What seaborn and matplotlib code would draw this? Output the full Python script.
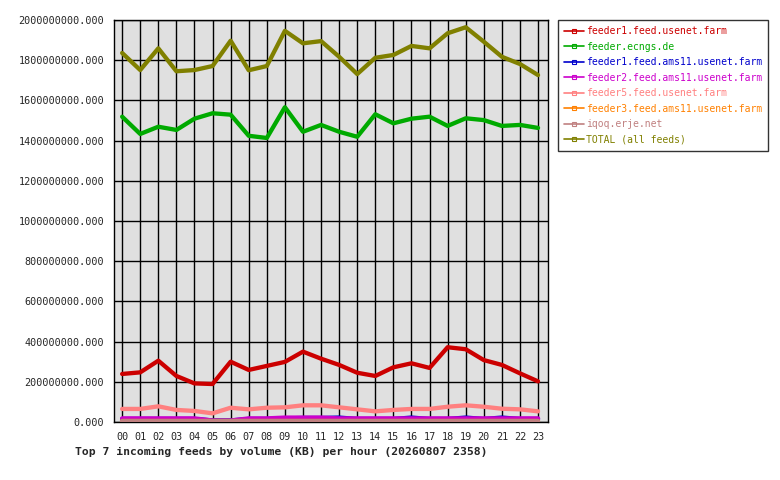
import numpy as np
import pandas as pd
import matplotlib
matplotlib.use("Agg")
import matplotlib.pyplot as plt
import seaborn as sns
from matplotlib.lines import Line2D
from matplotlib.ticker import FuncFormatter, MultipleLocator

hours = ["00", "01", "02", "03", "04", "05", "06", "07", "08", "09", "10", "11",
         "12", "13", "14", "15", "16", "17", "18", "19", "20", "21", "22", "23"]

feed_names = [
    "feeder1.feed.usenet.farm",
    "feeder.ecngs.de",
    "feeder1.feed.ams11.usenet.farm",
    "feeder2.feed.ams11.usenet.farm",
    "feeder5.feed.usenet.farm",
    "feeder3.feed.ams11.usenet.farm",
    "iqoq.erje.net",
    "TOTAL (all feeds)",
]

feeder1_usenet = [239e6, 247e6, 305e6, 229e6, 192e6, 189e6, 300e6, 259e6, 279e6, 299e6, 350e6, 315e6,
                  284e6, 245e6, 229e6, 272e6, 292e6, 269e6, 372e6, 362e6, 308e6, 284e6, 242e6, 202e6]
ecngs = [1519e6, 1433e6, 1469e6, 1453e6, 1509e6, 1536e6, 1529e6, 1424e6, 1413e6, 1566e6, 1444e6, 1478e6,
         1444e6, 1419e6, 1531e6, 1486e6, 1509e6, 1519e6, 1473e6, 1511e6, 1502e6, 1473e6, 1478e6, 1463e6]
feeder1_ams11 = [15e6, 15e6, 15e6, 15e6, 15e6, 8e6, 8e6, 15e6, 15e6, 18e6, 20e6, 20e6,
                 22e6, 15e6, 15e6, 15e6, 22e6, 15e6, 15e6, 22e6, 15e6, 22e6, 15e6, 15e6]
feeder2_ams11 = [18e6, 18e6, 18e6, 18e6, 18e6, 7e6, 7e6, 18e6, 18e6, 22e6, 22e6, 22e6,
                 18e6, 18e6, 18e6, 18e6, 18e6, 18e6, 18e6, 18e6, 18e6, 18e6, 18e6, 18e6]
feeder5_usenet = [65e6, 65e6, 78e6, 60e6, 55e6, 43e6, 71e6, 63e6, 71e6, 73e6, 83e6, 83e6,
                  73e6, 63e6, 53e6, 60e6, 65e6, 65e6, 76e6, 83e6, 76e6, 66e6, 63e6, 53e6]
feeder3_ams11 = [4e6, 4e6, 4e6, 4e6, 4e6, 4e6, 4e6, 4e6, 4e6, 4e6, 4e6, 4e6,
                 4e6, 4e6, 4e6, 4e6, 4e6, 4e6, 4e6, 4e6, 4e6, 4e6, 4e6, 4e6]
iqoq = [6e6, 6e6, 6e6, 6e6, 6e6, 6e6, 6e6, 6e6, 6e6, 6e6, 6e6, 6e6,
        6e6, 6e6, 6e6, 6e6, 6e6, 6e6, 6e6, 6e6, 6e6, 6e6, 6e6, 6e6]
total = [1836e6, 1751e6, 1859e6, 1745e6, 1751e6, 1771e6, 1897e6, 1750e6, 1771e6, 1946e6, 1884e6, 1895e6,
         1817e6, 1731e6, 1812e6, 1826e6, 1871e6, 1859e6, 1934e6, 1964e6, 1892e6, 1817e6, 1781e6, 1726e6]

series = [feeder1_usenet, ecngs, feeder1_ams11, feeder2_ams11,
          feeder5_usenet, feeder3_ams11, iqoq, total]
colors = ["#cc0000", "#00aa00", "#0000cc", "#cc00cc",
          "#ff8080", "#ff8000", "#c08080", "#808000"]

sns.set_style("white")
plt.rcParams["font.family"] = ["DejaVu Sans Mono", "DejaVu Sans"]

fig = plt.figure(figsize=(7.8, 4.8), dpi=100)
ax = fig.add_axes([114 / 780, 1 - 422 / 480, (548 - 114) / 780, (422 - 20) / 480])
ax.set_facecolor("#e0e0e0")

x = np.arange(len(hours))
for name, vals, col in zip(feed_names, series, colors):
    df = pd.DataFrame({"hour": x, "kb": vals})
    sns.lineplot(data=df, x="hour", y="kb", color=col, linewidth=3.1,
                 ax=ax, legend=False, zorder=3)

ax.set_xlim(-0.45, 23.55)
ax.set_ylim(0, 2e9)
ax.set_xticks(x)
ax.set_xticklabels(hours)
ax.yaxis.set_major_locator(MultipleLocator(2e8))
ax.yaxis.set_major_formatter(FuncFormatter(lambda v, p: f"{v:.3f}"))
ax.grid(True, color="black", linewidth=1.0)
ax.set_axisbelow(True)
for s in ax.spines.values():
    s.set_color("black")
    s.set_linewidth(1.0)
ax.tick_params(axis="both", direction="out", length=4, width=1, color="black",
               labelsize=7.3, pad=3)
ax.set_xlabel("")
ax.set_ylabel("")

handles = [Line2D([0], [0], color=c, linewidth=1.2, marker="s", markersize=3,
                  markerfacecolor="none", markeredgewidth=0.8)
           for c in colors]
leg = fig.legend(handles, feed_names, loc="upper left",
                 bbox_to_anchor=(558 / 780, 1 - 20 / 480), frameon=True,
                 fancybox=False, edgecolor="black", fontsize=7.0,
                 handlelength=2.0, handletextpad=0.2, labelspacing=0.56,
                 borderpad=0.65, borderaxespad=0)
leg.get_frame().set_linewidth(1.0)
for txt, c in zip(leg.get_texts(), colors):
    txt.set_color(c)

fig.text(75 / 780, 1 - 452 / 480,
         "Top 7 incoming feeds by volume (KB) per hour (20260807 2358)",
         fontsize=8.2, fontweight="bold", va="center", ha="left")

fig.savefig("out.png", dpi=100)
